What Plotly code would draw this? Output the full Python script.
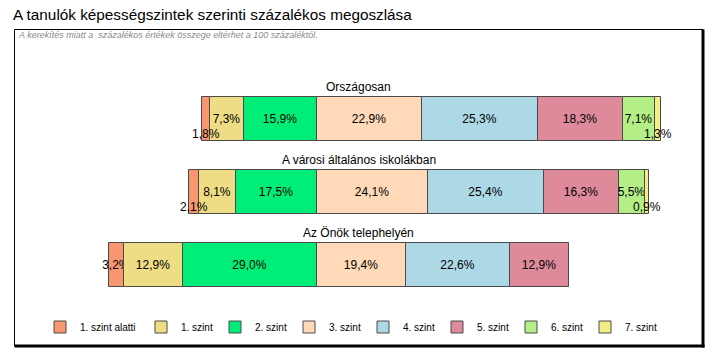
import plotly.graph_objects as go

# ---- data ----
categories = ["Országosan", "A városi általános iskolákban", "Az Önök telephelyén"]
levels = ["1. szint alatti", "1. szint", "2. szint", "3. szint",
          "4. szint", "5. szint", "6. szint", "7. szint"]
szint_alatti = [1.8, 2.1, 3.2]
szint_1 = [7.3, 8.1, 12.9]
szint_2 = [15.9, 17.5, 29.0]
szint_3 = [22.9, 24.1, 19.4]
szint_4 = [25.3, 25.4, 22.6]
szint_5 = [18.3, 16.3, 12.9]
szint_6 = [7.1, 5.5, None]
szint_7 = [1.3, 0.9, None]

series = [szint_alatti, szint_1, szint_2, szint_3, szint_4, szint_5, szint_6, szint_7]
colors = ["#F8976F", "#EEDD84", "#00EE78", "#FFD9B8",
          "#ADD8E6", "#DE8A9B", "#B3EF86", "#F1EE86"]

title = "A tanulók képességszintek szerinti százalékos megoszlása"
note = "A kerekítés miatt a  százalékos értékek összege eltérhet a 100 százaléktól."

FONT = "Liberation Sans, Arial, sans-serif"


def fmt(v):
    return f"{v:.1f}".replace(".", ",") + "%"


rows = list(range(len(categories)))
# diverging: bars aligned at the boundary between "2. szint" and "3. szint"
left_part = [sum((s[i] or 0) for s in series[:3]) for i in rows]

fig = go.Figure()
annotations = []
running = [0.0 for _ in rows]
for k, (name, vals, col) in enumerate(zip(levels, series, colors)):
    bases, texts = [], []
    for i in rows:
        b = running[i] - left_part[i]
        bases.append(b)
        v = vals[i]
        if v is None:
            texts.append("")
            continue
        if v < 2.5:
            texts.append("")
            annotations.append(dict(
                x=b + v / 2, y=i, xref="x", yref="y", text=fmt(v),
                showarrow=False, yshift=-15,
                font=dict(family=FONT, size=12, color="#000000")))
        else:
            texts.append(fmt(v))
        running[i] += v
    fig.add_trace(go.Bar(
        name=name, y=rows, x=vals, base=bases, orientation="h",
        width=0.6, marker=dict(color=col, line=dict(color="#4a4a4a", width=1)),
        text=texts, textposition="inside", insidetextanchor="middle",
        constraintext="none", textangle=0,
        textfont=dict(family=FONT, size=12, color="#000000"),
        legend="legend" if k == 0 else "legend2",
        hoverinfo="skip"))

# row labels
for i, c in enumerate(categories):
    annotations.append(dict(
        x=0.4995, xref="paper", y=i, yref="y", yshift=32, text=c,
        showarrow=False, xanchor="center", yanchor="middle",
        font=dict(family=FONT, size=12, color="#000000")))

# title and note
annotations.append(dict(
    x=-0.0045, xref="paper", y=1.0576, yref="paper", text=title,
    showarrow=False, xanchor="left", yanchor="middle",
    font=dict(family=FONT, size=15.3, color="#000000")))
annotations.append(dict(
    x=0.003, xref="paper", y=0.986, yref="paper", text="<i>" + note + "</i>",
    showarrow=False, xanchor="left", yanchor="middle",
    font=dict(family=FONT, size=9, color="#8a8a8a")))

ML, MR, MT, MB = 14, 10, 31, 51
W, H = 714, 360
pw, ph = W - ML - MR, H - MT - MB


def px(xp):
    return (xp - ML) / pw


def py(yp):
    return (H - MB - yp) / ph


shapes = [
    dict(type="rect", xref="paper", yref="paper", x0=px(14.5), x1=px(703), y0=py(346), y1=py(29.5),
         line=dict(color="#000000", width=1)),
    dict(type="line", xref="paper", yref="paper", x0=px(703), x1=px(703), y0=py(347.5), y1=py(29.5),
         line=dict(color="#000000", width=3)),
    dict(type="line", xref="paper", yref="paper", x0=px(14.5), x1=px(704.5), y0=py(346), y1=py(346),
         line=dict(color="#000000", width=3)),
]

legend_common = dict(orientation="h", yanchor="middle", y=py(327), xanchor="left",
                     font=dict(family=FONT, size=10, color="#000000"),
                     traceorder="normal", bgcolor="rgba(0,0,0,0)")

fig.update_layout(
    width=W, height=H,
    margin=dict(l=ML, r=MR, t=MT, b=MB, pad=0, autoexpand=False),
    paper_bgcolor="#ffffff", plot_bgcolor="#ffffff",
    barmode="overlay", bargap=0,
    xaxis=dict(range=[-(316.7 - ML) / 4.6, (W - MR - 316.7) / 4.6], visible=False, fixedrange=True),
    yaxis=dict(range=[(H - MB - 119) / 73, -(119 - MT) / 73], visible=False, fixedrange=True),
    showlegend=True,
    legend=dict(x=px(40), **legend_common),
    legend2=dict(x=px(141), entrywidth=29, entrywidthmode="pixels", **legend_common),
    annotations=annotations,
    shapes=shapes,
    font=dict(family=FONT),
)

fig.write_html("out.html", config={"displayModeBar": False},
               post_script="document.body.style.margin='0';")
